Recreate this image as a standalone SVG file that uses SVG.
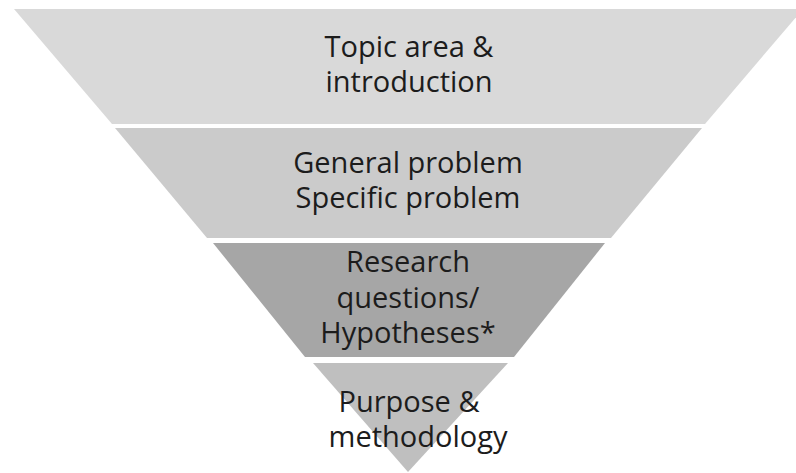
<svg xmlns="http://www.w3.org/2000/svg" width="796" height="473" viewBox="0 0 796 473">
  <style>
    .lbl { font-family: "Open Sans", Lato, "Liberation Sans", sans-serif; font-size: 29px; fill: #1c1c1c; text-anchor: middle; }
  </style>
  <rect width="796" height="473" fill="#ffffff"/>
  <g id="tier-topic">
    <polygon points="14,9 803,9 705,124 112,124" fill="#d9d9d9"/>
    <text class="lbl" x="409" y="57">Topic area &amp;</text>
    <text class="lbl" x="409" y="92">introduction</text>
  </g>
  <g id="tier-problem">
    <polygon points="115,128 702,128 611,238 207,238" fill="#cbcbcb"/>
    <text class="lbl" x="408" y="173">General problem</text>
    <text class="lbl" x="408" y="208">Specific problem</text>
  </g>
  <g id="tier-questions">
    <polygon points="213,243 605,243 514,357 305,357" fill="#a6a6a6"/>
    <text class="lbl" x="408" y="272">Research</text>
    <text class="lbl" x="408" y="308">questions/</text>
    <text class="lbl" x="408" y="343">Hypotheses*</text>
  </g>
  <g id="tier-purpose">
    <polygon points="313,363 508,363 408,472" fill="#bfbfbf"/>
    <text class="lbl" x="409" y="412">Purpose &amp;</text>
    <text class="lbl" x="418" y="447">methodology</text>
  </g>
  <g id="connectors"/>
</svg>
